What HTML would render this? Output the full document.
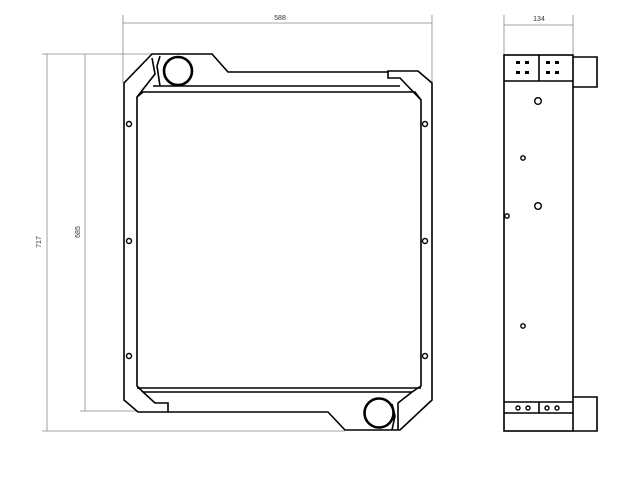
<!DOCTYPE html>
<html><head><style>html,body{margin:0;padding:0;background:#fff}svg{display:block}</style></head>
<body>
<svg width="641" height="499" viewBox="0 0 641 499" xmlns="http://www.w3.org/2000/svg" font-family="Liberation Sans, sans-serif">
<g stroke="#888" stroke-width="0.8" fill="none">
  <line x1="123" y1="15" x2="123" y2="83"/>
  <line x1="432" y1="15" x2="432" y2="83"/>
  <line x1="123" y1="23" x2="432" y2="23"/>
  <line x1="42" y1="54" x2="152" y2="54"/>
  <line x1="42" y1="431" x2="345" y2="431"/>
  <line x1="80" y1="411" x2="138" y2="411"/>
  <line x1="47" y1="54" x2="47" y2="431"/>
  <line x1="85" y1="54" x2="85" y2="411"/>
  <line x1="504" y1="15" x2="504" y2="54"/>
  <line x1="573" y1="15" x2="573" y2="54"/>
  <line x1="504" y1="25" x2="573" y2="25"/>
</g>
<g fill="#333" font-size="7">
  <text x="280" y="20" text-anchor="middle">588</text>
  <text x="539" y="21" text-anchor="middle">134</text>
  <text transform="translate(41,242) rotate(-90)" text-anchor="middle">717</text>
  <text transform="translate(80,232) rotate(-90)" text-anchor="middle">685</text>
</g>
<g stroke="#000" stroke-width="1.6" fill="none" stroke-linejoin="miter">
  <!-- outer frame -->
  <polyline points="388,72 228,72 212,54 152,54 124,83 124,400 138,412 168,412 168,403 155,403 143,392"/>
  <polyline points="388,72 388,71 418,71 432,83 432,400 400,430 345,430 328,412 168,412"/>
  <polyline points="388,71 388,78 400,78 421,100"/>
  <!-- inner panel -->
  <polyline points="143,392 137,386 137,97 143,92 415,92 421,100 421,386 412,392 143,392"/>
  <line x1="137" y1="388" x2="421" y2="388"/>
  <line x1="153" y1="86" x2="400" y2="86"/>
  <!-- top-left pinch near circle -->
  <polyline points="137,97 155,74 152,58"/>
  <polyline points="160,56 157,66 160,86"/>
  <!-- bottom-right pinch near circle -->
  <polyline points="412,392 398,403 398,430"/>
  <polyline points="392,404 395,416 392,430"/>
  <circle cx="178" cy="71" r="14" stroke-width="2.6"/>
  <circle cx="379" cy="413" r="14.5" stroke-width="2.6"/>
  <!-- side view -->
  <rect x="504" y="55" width="69" height="376"/>
  <line x1="504" y1="81" x2="573" y2="81"/>
  <line x1="539" y1="55" x2="539" y2="81"/>
  <polyline points="573,57 597,57 597,87 573,87"/>
  <line x1="504" y1="402" x2="573" y2="402"/>
  <line x1="504" y1="413" x2="573" y2="413"/>
  <line x1="539" y1="402" x2="539" y2="413"/>
  <polyline points="573,397 597,397 597,431 573,431"/>
</g>
<g stroke="#000" stroke-width="1.4" fill="none">
  <circle cx="129" cy="124" r="2.5"/><circle cx="129" cy="241" r="2.5"/><circle cx="129" cy="356" r="2.5"/>
  <circle cx="425" cy="124" r="2.5"/><circle cx="425" cy="241" r="2.5"/><circle cx="425" cy="356" r="2.5"/>
  <circle cx="538" cy="101" r="3.3"/><circle cx="523" cy="158" r="2.2"/><circle cx="538" cy="206" r="3.3"/>
  <circle cx="507" cy="216" r="2.2"/><circle cx="523" cy="326" r="2.2"/>
  <circle cx="518" cy="408" r="2"/><circle cx="528" cy="408" r="2"/>
  <circle cx="547" cy="408" r="2"/><circle cx="557" cy="408" r="2"/>
</g>
<g fill="#000">
  <rect x="516" y="61" width="4" height="3"/><rect x="525" y="61" width="4" height="3"/>
  <rect x="516" y="71" width="4" height="3"/><rect x="525" y="71" width="4" height="3"/>
  <rect x="546" y="61" width="4" height="3"/><rect x="555" y="61" width="4" height="3"/>
  <rect x="546" y="71" width="4" height="3"/><rect x="555" y="71" width="4" height="3"/>
</g>
</svg>
</body></html>
